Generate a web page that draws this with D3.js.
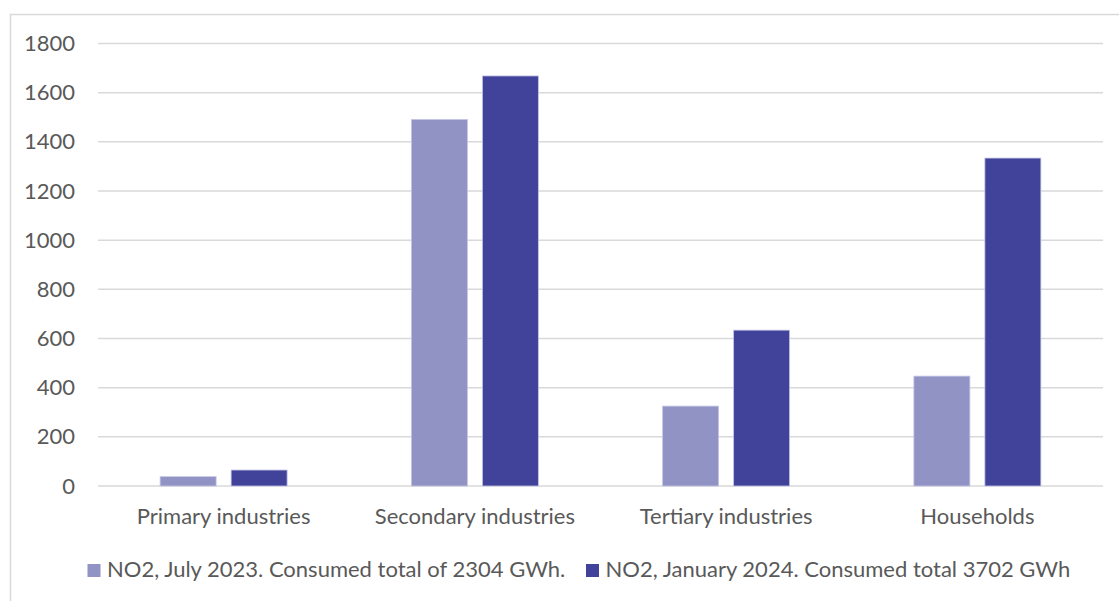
<!DOCTYPE html>
<html>
<head>
<meta charset="utf-8">
<script src="https://cdn.jsdelivr.net/npm/d3@7"></script>
<style>
  html, body { margin: 0; padding: 0; background: #fff; }
  svg { display: block; font-family: Lato, "Open Sans", sans-serif; }
</style>
</head>
<body>
<svg id="chart" width="1119" height="601"></svg>
<script>
// Electricity consumption by sector (GWh), NO2 price area
const categories = ["Primary industries", "Secondary industries", "Tertiary industries", "Households"];
const july2023 = [38, 1491, 325, 447];
const january2024 = [65, 1668, 634, 1334];
const seriesNames = [
  "NO2, July 2023. Consumed total of 2304 GWh.",
  "NO2, January 2024. Consumed total 3702 GWh"
];
const yTicks = [0, 200, 400, 600, 800, 1000, 1200, 1400, 1600, 1800];

const colors = ["#9193c4", "#404399"];
const textColor = "#595959";
const gridColor = "#d9d9d9";
const fontSize = "22px";

const svg = d3.select("#chart");
const margin = { left: 98, right: 16, top: 43.5, bottom: 115 };
const W = 1119, H = 601;

// outer chart frame
svg.append("rect")
  .attr("x", 10.5).attr("y", 14.5)
  .attr("width", 1200).attr("height", 700)
  .attr("fill", "none").attr("stroke", gridColor).attr("stroke-width", 1.5);

const x = d3.scaleBand()
  .domain(categories)
  .range([margin.left, W - margin.right]);

const y = d3.scaleLinear()
  .domain([0, 1800])
  .range([H - margin.bottom, margin.top]);

// gridlines
svg.append("g")
  .selectAll("line")
  .data(yTicks)
  .join("line")
  .attr("x1", margin.left).attr("x2", W - margin.right)
  .attr("y1", d => y(d)).attr("y2", d => y(d))
  .attr("stroke", gridColor).attr("stroke-width", 1.5);

// y axis labels
const yAxis = d3.axisLeft(y).tickValues(yTicks).tickFormat(d3.format("d")).tickSize(0).tickPadding(0);
const yg = svg.append("g").attr("transform", `translate(75,0)`).call(yAxis);
yg.select(".domain").remove();
yg.selectAll("text")
  .attr("fill", textColor).style("font-size", fontSize)
  .style("font-family", "Lato, 'Open Sans', sans-serif");

// x axis labels
const xAxis = d3.axisBottom(x).tickSize(0).tickPadding(0);
const xg = svg.append("g").attr("transform", `translate(0,${y(0) + 22})`).call(xAxis);
xg.select(".domain").remove();
xg.selectAll("text")
  .attr("fill", textColor).style("font-size", fontSize)
  .style("font-family", "Lato, 'Open Sans', sans-serif");

// bars
const barW = 56, gap = 15;
const series = [july2023, january2024];
series.forEach((vals, si) => {
  svg.append("g")
    .selectAll("rect")
    .data(categories)
    .join("rect")
    .attr("x", (c, i) => x(c) + x.bandwidth() / 2 + (si === 0 ? -(barW + gap / 2) : gap / 2))
    .attr("y", (c, i) => y(vals[i]))
    .attr("width", barW)
    .attr("height", (c, i) => y(0) - y(vals[i]))
    .attr("fill", colors[si])
    .attr("stroke", "#c5c6e6").attr("stroke-width", 0.8);
});

// legend
const legendItems = [
  { x: 87.5, name: seriesNames[0], color: colors[0] },
  { x: 586, name: seriesNames[1], color: colors[1] }
];
const lg = svg.append("g");
legendItems.forEach(d => {
  lg.append("rect").attr("x", d.x).attr("y", 564).attr("width", 13).attr("height", 13).attr("fill", d.color);
  lg.append("text").attr("x", d.x + 19.5).attr("y", 577)
    .attr("fill", textColor).style("font-size", fontSize).text(d.name);
});
</script>
</body>
</html>
